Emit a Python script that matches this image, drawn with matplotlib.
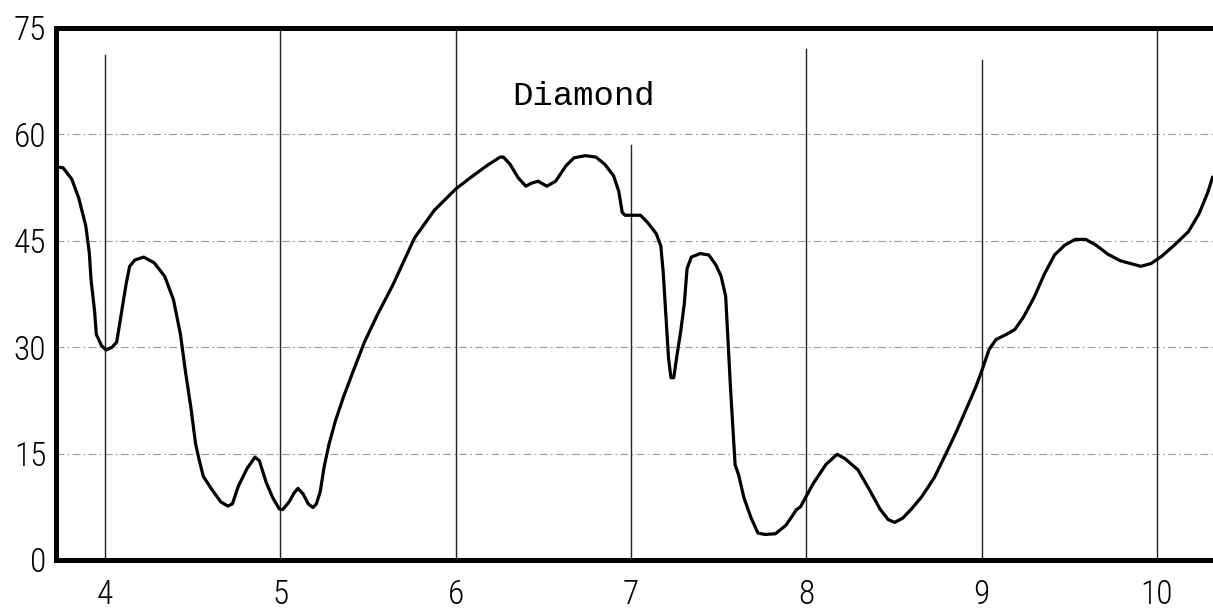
import matplotlib
matplotlib.use("Agg")
import matplotlib.pyplot as plt
from matplotlib import font_manager

# Transmission (%) versus wavelength (microns)
wavelength = [
    3.727, 3.76, 3.81, 3.85, 3.89, 3.91, 3.92, 3.94, 3.95, 3.98,
    4.006, 4.04, 4.066, 4.095, 4.12, 4.14, 4.17, 4.22, 4.28, 4.34,
    4.39, 4.43, 4.46, 4.49, 4.516, 4.535, 4.56, 4.61, 4.66, 4.70,
    4.726, 4.76, 4.81, 4.855, 4.88, 4.918, 4.956, 4.994, 5.013, 5.05,
    5.077, 5.10, 5.13, 5.159, 5.186, 5.205, 5.227, 5.25, 5.278, 5.315,
    5.36, 5.415, 5.479, 5.552, 5.644, 5.765, 5.878, 6.0, 6.084, 6.178,
    6.253, 6.272, 6.31, 6.356, 6.40, 6.43, 6.47, 6.52, 6.57, 6.63,
    6.675, 6.74, 6.80, 6.85, 6.90, 6.93, 6.95, 6.966, 7.004, 7.054,
    7.094, 7.144, 7.17, 7.184, 7.198, 7.214, 7.228, 7.244, 7.26, 7.284,
    7.304, 7.32, 7.344, 7.394, 7.444, 7.484, 7.514, 7.54, 7.554, 7.568,
    7.584, 7.594, 7.614, 7.644, 7.684, 7.724, 7.764, 7.824, 7.884, 7.944,
    7.967, 8.04, 8.113, 8.176, 8.22, 8.295, 8.358, 8.42, 8.467, 8.504,
    8.55, 8.60, 8.658, 8.73, 8.795, 8.858, 8.92, 8.967, 9.0, 9.043,
    9.083, 9.141, 9.19, 9.24, 9.299, 9.358, 9.416, 9.475, 9.534, 9.593,
    9.652, 9.721, 9.79, 9.849, 9.908, 9.967, 10.026, 10.10, 10.18, 10.24,
    10.29, 10.318,
]
transmission = [
    55.4, 55.3, 53.7, 51.0, 47.1, 43.3, 39.5, 35.1, 31.8, 30.2,
    29.6, 30.0, 30.7, 35.1, 38.9, 41.4, 42.3, 42.7, 41.9, 40.0,
    36.7, 31.8, 26.3, 21.4, 16.4, 14.3, 11.8, 9.9, 8.2, 7.6,
    7.9, 10.4, 12.9, 14.5, 14.0, 11.0, 8.8, 7.2, 7.1, 8.2,
    9.4, 10.1, 9.3, 7.9, 7.4, 7.9, 9.6, 13.2, 16.4, 19.7,
    23.0, 26.6, 30.7, 34.5, 38.9, 45.4, 49.3, 52.3, 53.9, 55.6,
    56.8, 56.8, 55.8, 53.9, 52.7, 53.1, 53.4, 52.7, 53.4, 55.6,
    56.7, 57.0, 56.8, 55.8, 54.2, 52.0, 49.0, 48.6, 48.6, 48.6,
    47.6, 46.0, 44.3, 40.5, 35.0, 28.5, 25.7, 25.7, 28.5, 32.3,
    36.1, 41.1, 42.7, 43.2, 43.0, 41.6, 40.0, 37.2, 30.6, 24.1,
    17.5, 13.4, 12.0, 8.8, 6.0, 3.8, 3.6, 3.7, 4.9, 7.1,
    7.5, 10.8, 13.5, 14.9, 14.3, 12.7, 10.0, 7.2, 5.7, 5.3,
    5.9, 7.2, 8.9, 11.6, 14.9, 18.2, 21.7, 24.4, 26.6, 29.7,
    31.1, 31.8, 32.5, 34.3, 37.0, 40.3, 43.0, 44.4, 45.2, 45.2,
    44.4, 43.1, 42.2, 41.8, 41.4, 41.8, 42.8, 44.4, 46.3, 48.8,
    51.8, 54.0,
]

x_ticks = [4, 5, 6, 7, 8, 9, 10]
y_ticks = [0, 15, 30, 45, 60, 75]
y_grid = [15, 30, 45, 60]
# upper end (axes fraction) of each hand-ruled vertical line
v_grid_top = [0.95, 1.0, 1.0, 0.78, 0.96, 0.94, 1.0]
title_text = "Diamond"

# pick the narrowest installed sans face for the stencilled numerals
installed = {f.name for f in font_manager.fontManager.ttflist}
tick_font = [f for f in ("Roboto Condensed", "Liberation Sans Narrow",
                         "DejaVu Sans Condensed", "Roboto", "DejaVu Sans")
             if f in installed][:1] or ["DejaVu Sans"]

W, H = 1213, 610
fig = plt.figure(figsize=(W / 100, H / 100), dpi=100)
fig.patch.set_facecolor("white")
ax = fig.add_axes([56 / W, 50 / H, 1 - 56 / W, 532 / H])
ax.set_xlim(3.72, 10.32)
ax.set_ylim(0, 75)

# faint dash-dot horizontal rulings
for yv in y_grid:
    ax.axhline(yv, color="#9a9a9a", lw=0.8, ls=(0, (7, 3, 1.5, 3)), zorder=1)

# thin vertical rulings
for xv, top in zip(x_ticks, v_grid_top):
    ax.axvline(xv, ymin=0, ymax=top, color="#222222", lw=1.0, zorder=1)

ax.plot(wavelength, transmission, color="black", lw=2.3,
        solid_joinstyle="round", solid_capstyle="round", zorder=3)

ax.text(6.73, 65.3, title_text, family="Liberation Mono", fontsize=24.5,
        ha="center", va="center", color="black")

for side in ("left", "bottom", "top"):
    ax.spines[side].set_linewidth(3.6)
    ax.spines[side].set_color("black")
ax.spines["right"].set_visible(False)

ax.set_xticks(x_ticks)
ax.set_xticklabels([str(v) for v in x_ticks])
ax.set_yticks(y_ticks)
ax.set_yticklabels([str(v) for v in y_ticks])
ax.tick_params(axis="both", length=0, labelsize=24, colors="black")
ax.tick_params(axis="x", pad=14)
ax.tick_params(axis="y", pad=7)
for lab in ax.get_xticklabels() + ax.get_yticklabels():
    lab.set_fontfamily(tick_font)
    lab.set_fontweight("light")

fig.savefig("out.png", dpi=100, facecolor="white")
